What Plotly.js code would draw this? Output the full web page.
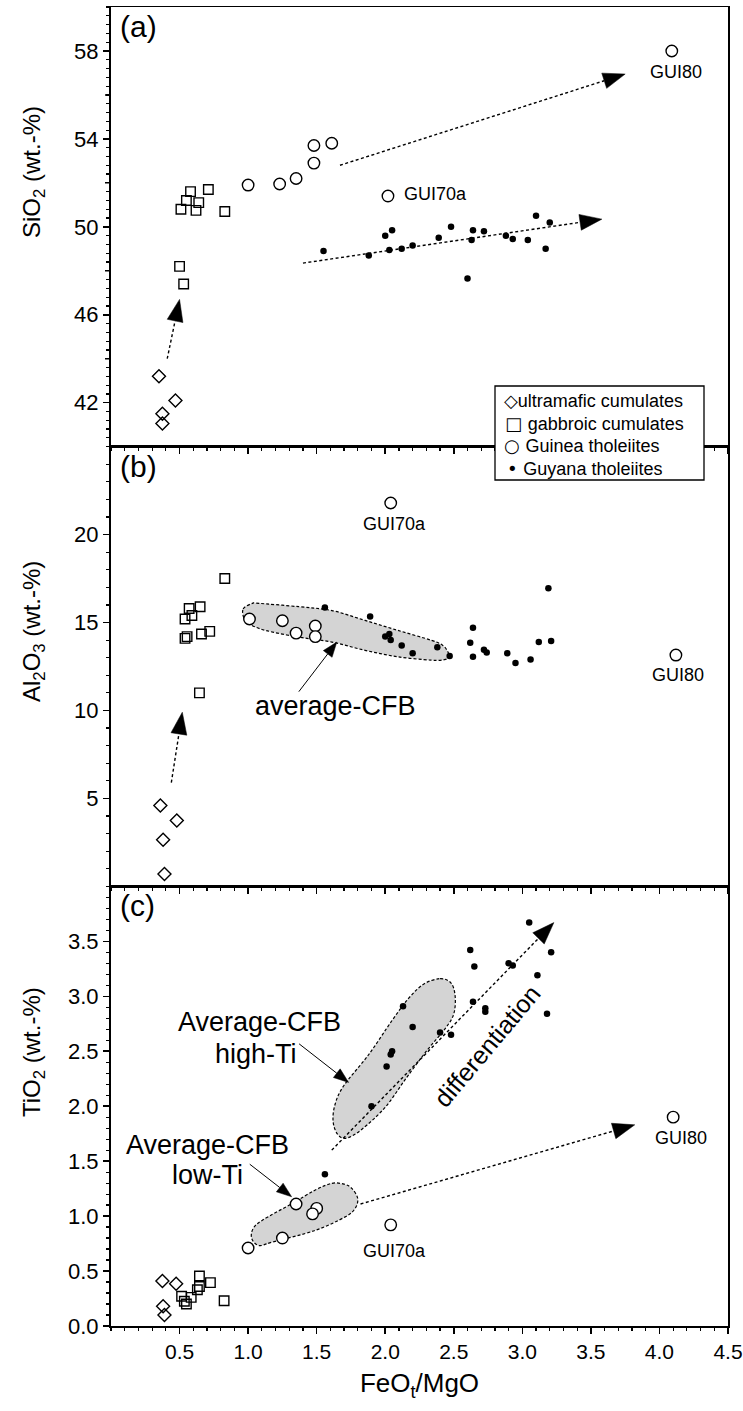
<!DOCTYPE html>
<html><head><meta charset="utf-8">
<script src="https://cdn.plot.ly/plotly-3.0.1.min.js"></script>
<style>html,body{margin:0;padding:0;background:#fff}</style>
</head><body><div id="chart" style="width:743px;height:1411px"></div>
<script>
// ---------------- DATA ----------------
const groupNames = ['ultramafic cumulates', 'gabbroic cumulates', 'Guinea tholeiites', 'Guyana tholeiites'];
const legendGlyphs = ['\u25C7', '\u25A1 ', '\u25CB ', '\u2022 '];
const yTitles = ['SiO<sub>2</sub> (wt.-%)', 'Al<sub>2</sub>O<sub>3</sub> (wt.-%)', 'TiO<sub>2</sub> (wt.-%)'];
const xTitle = 'FeO<sub>t</sub>/MgO';

// Panel (a): SiO2 vs FeOt/MgO
const ultraA_x = [0.35, 0.47, 0.375, 0.375];
const ultraA_y = [43.2, 42.1, 41.5, 41.05];
const gabbroA_x = [0.58, 0.71, 0.55, 0.64, 0.51, 0.62, 0.83, 0.50, 0.53];
const gabbroA_y = [51.6, 51.7, 51.2, 51.1, 50.8, 50.75, 50.7, 48.2, 47.4];
const guineaA_x = [1.00, 1.23, 1.35, 1.48, 1.61, 1.48, 2.02, 4.09];
const guineaA_y = [51.9, 51.95, 52.2, 53.7, 53.8, 52.9, 51.4, 58.0];
const guyanaA_x = [1.55, 1.88, 2.00, 2.05, 2.03, 2.12, 2.20, 2.39, 2.48, 2.60, 2.64, 2.63, 2.72, 2.88, 2.93, 3.04, 3.10, 3.17, 3.20];
const guyanaA_y = [48.9, 48.7, 49.6, 49.85, 48.95, 49.0, 49.15, 49.5, 50.0, 47.65, 49.85, 49.4, 49.8, 49.6, 49.45, 49.4, 50.5, 49.0, 50.2];

// Panel (b): Al2O3 vs FeOt/MgO
const ultraB_x = [0.36, 0.48, 0.38, 0.39];
const ultraB_y = [4.6, 3.75, 2.65, 0.7];
const gabbroB_x = [0.83, 0.57, 0.65, 0.54, 0.59, 0.54, 0.555, 0.66, 0.72, 0.645];
const gabbroB_y = [17.5, 15.8, 15.9, 15.2, 15.4, 14.1, 14.2, 14.35, 14.5, 11.0];
const guineaB_x = [1.01, 1.25, 1.35, 1.49, 1.49, 2.04, 4.12];
const guineaB_y = [15.2, 15.1, 14.4, 14.8, 14.2, 21.8, 13.15];
const guyanaB_x = [1.56, 1.89, 2.00, 2.03, 2.04, 2.12, 2.20, 2.38, 2.47, 2.64, 2.62, 2.64, 2.72, 2.74, 2.89, 2.95, 3.06, 3.12, 3.21, 3.19];
const guyanaB_y = [15.85, 15.35, 14.2, 14.35, 14.0, 13.7, 13.25, 13.6, 13.1, 14.7, 13.85, 13.05, 13.45, 13.3, 13.25, 12.7, 12.9, 13.9, 13.95, 16.95];

// Panel (c): TiO2 vs FeOt/MgO
const ultraC_x = [0.375, 0.475, 0.38, 0.39];
const ultraC_y = [0.41, 0.385, 0.18, 0.10];
const gabbroC_x = [0.645, 0.725, 0.63, 0.645, 0.585, 0.515, 0.55, 0.535, 0.825];
const gabbroC_y = [0.455, 0.395, 0.33, 0.36, 0.26, 0.27, 0.20, 0.225, 0.23];
const guineaC_x = [1.35, 1.50, 1.47, 1.25, 1.00, 2.04, 4.10];
const guineaC_y = [1.11, 1.07, 1.02, 0.80, 0.71, 0.92, 1.90];
const guyanaC_x = [3.05, 2.62, 2.65, 2.90, 2.93, 3.21, 3.11, 2.64, 2.73, 2.73, 3.18, 2.13, 2.20, 2.40, 2.48, 2.05, 2.04, 2.01, 1.90, 1.56];
const guyanaC_y = [3.67, 3.42, 3.27, 3.30, 3.28, 3.40, 3.19, 2.95, 2.89, 2.86, 2.84, 2.91, 2.72, 2.67, 2.65, 2.50, 2.47, 2.36, 2.00, 1.38];

// Tick labels
const xTickVals = [0.5, 1.0, 1.5, 2.0, 2.5, 3.0, 3.5, 4.0, 4.5];
const xTickText = ['0.5', '1.0', '1.5', '2.0', '2.5', '3.0', '3.5', '4.0', '4.5'];
const siTickVals = [42, 46, 50, 54, 58];
const siTickText = ['42', '46', '50', '54', '58'];
const siMidTicks = [44, 48, 52, 56];
const alTickVals = [5, 10, 15, 20];
const alTickText = ['5', '10', '15', '20'];
const tiTickVals = [0, 0.5, 1.0, 1.5, 2.0, 2.5, 3.0, 3.5];
const tiTickText = ['0.0', '0.5', '1.0', '1.5', '2.0', '2.5', '3.0', '3.5'];

// ---------------- LAYOUT CONSTANTS ----------------
const W = 743, H = 1411;
const M = {l: 111, r: 15, t: 7, b: 85};
const PW = W - M.l - M.r;
const PHT = H - M.t - M.b;
const PH = PHT / 3;
const XR = [0, 4.5];
const YR = {a: [40, 60], b: [0, 25], c: [0, 4]};
const FONT = 'Liberation Sans, Arial, sans-serif';
const GREY = 'rgb(212,212,212)';

const panels = {a: ['x', 'y'], b: ['x2', 'y2'], c: ['x3', 'y3']};

const styles = [
  {symbol: 'diamond-open', size: 10, color: 'black', line: {color: 'black', width: 1.4}},
  {symbol: 'square-open', size: 9.5, color: 'black', line: {color: 'black', width: 1.4}},
  {symbol: 'circle', size: 11.5, color: 'white', line: {color: 'black', width: 1.4}},
  {symbol: 'circle', size: 6.5, color: 'black', line: {color: 'black', width: 0}}
];

const sets = {
  a: [[ultraA_x, ultraA_y], [gabbroA_x, gabbroA_y], [guineaA_x, guineaA_y], [guyanaA_x, guyanaA_y]],
  b: [[ultraB_x, ultraB_y], [gabbroB_x, gabbroB_y], [guineaB_x, guineaB_y], [guyanaB_x, guyanaB_y]],
  c: [[ultraC_x, ultraC_y], [gabbroC_x, gabbroC_y], [guineaC_x, guineaC_y], [guyanaC_x, guyanaC_y]]
};

const traces = [];
['a', 'b', 'c'].forEach(p => {
  sets[p].forEach((d, i) => {
    traces.push({
      type: 'scatter', mode: 'markers',
      x: d[0], y: d[1],
      xaxis: panels[p][0], yaxis: panels[p][1],
      name: groupNames[i], legendgroup: 'g' + i,
      showlegend: false,
      marker: styles[i],
      hoverinfo: 'skip'
    });
  });
});

// ---------------- SHAPES ----------------
const sx = PW / (XR[1] - XR[0]);
const syOf = {a: PH / (YR.a[1] - YR.a[0]), b: PH / (YR.b[1] - YR.b[0]), c: PH / (YR.c[1] - YR.c[0])};

function smoothClosed(pts) {
  const n = pts.length;
  let d = 'M ' + pts[0][0] + ',' + pts[0][1];
  for (let i = 0; i < n; i++) {
    const p0 = pts[(i - 1 + n) % n], p1 = pts[i], p2 = pts[(i + 1) % n], p3 = pts[(i + 2) % n];
    const c1 = [p1[0] + (p2[0] - p0[0]) / 6, p1[1] + (p2[1] - p0[1]) / 6];
    const c2 = [p2[0] - (p3[0] - p1[0]) / 6, p2[1] - (p3[1] - p1[1]) / 6];
    d += ' C ' + c1[0] + ',' + c1[1] + ' ' + c2[0] + ',' + c2[1] + ' ' + p2[0] + ',' + p2[1];
  }
  return d + ' Z';
}

const blobs = [
  {p: 'b', pts: [[0.964,15.77],[1.031,16.09],[1.08,16.09],[1.37,15.90],[1.611,15.68],[1.853,15.12],[2.094,14.55],[2.336,13.99],[2.42,13.70],[2.457,13.33],[2.469,13.05],[2.432,12.89],[2.336,12.86],[2.094,13.05],[1.853,13.42],[1.611,13.89],[1.37,14.17],[1.128,14.55],[1.007,14.92],[0.971,15.21]]},
  {p: 'c', pts: [[2.40,3.16],[2.48,3.12],[2.51,3.0],[2.50,2.84],[2.44,2.71],[2.30,2.50],[2.15,2.25],[2.0,1.99],[1.83,1.79],[1.72,1.71],[1.655,1.74],[1.62,1.86],[1.635,2.02],[1.70,2.19],[1.88,2.47],[2.05,2.78],[2.17,2.98],[2.28,3.11]]},
  {p: 'c', pts: [[1.611,1.298],[1.70,1.29],[1.756,1.252],[1.799,1.161],[1.78,1.069],[1.708,0.993],[1.49,0.870],[1.176,0.763],[1.08,0.732],[1.027,0.794],[1.036,0.885],[1.104,0.962],[1.321,1.115],[1.49,1.237]]}
];

const shapes = [];
blobs.forEach(b => {
  shapes.push({type: 'path', xref: panels[b.p][0], yref: panels[b.p][1], layer: 'below',
    path: smoothClosed(b.pts), fillcolor: GREY, line: {color: 'black', width: 1.2, dash: '3px,2px'}});
});

function arrow(p, tail, tip, L, Wd, dashed) {
  const xr = panels[p][0], yr = panels[p][1], sy = syOf[p];
  const dxp = (tip[0] - tail[0]) * sx, dyp = (tip[1] - tail[1]) * sy;
  const len = Math.hypot(dxp, dyp), ux = dxp / len, uy = dyp / len;
  const bx = tip[0] - L * ux / sx, by = tip[1] - L * uy / sy;
  const c1 = [bx - Wd * uy / sx, by + Wd * ux / sy];
  const c2 = [bx + Wd * uy / sx, by - Wd * ux / sy];
  shapes.push({type: 'line', xref: xr, yref: yr, x0: tail[0], y0: tail[1], x1: bx, y1: by,
    line: {color: 'black', width: dashed ? 1.4 : 1, dash: dashed ? '3px,2.5px' : 'solid'}});
  shapes.push({type: 'path', xref: xr, yref: yr,
    path: 'M ' + tip[0] + ',' + tip[1] + ' L ' + c1[0] + ',' + c1[1] + ' L ' + c2[0] + ',' + c2[1] + ' Z',
    fillcolor: 'black', line: {color: 'black', width: 0.5}});
}

// trend arrows (dotted)
arrow('a', [0.41, 44.0], [0.50, 46.7], 22, 8, true);
arrow('a', [1.67, 52.8], [3.75, 56.95], 22, 8, true);
arrow('a', [1.40, 48.35], [3.58, 50.35], 22, 8, true);
arrow('b', [0.44, 5.9], [0.52, 9.9], 22, 8, true);
arrow('c', [1.61, 1.60], [3.23, 3.67], 22, 8, true);
arrow('c', [1.82, 1.11], [3.82, 1.83], 22, 8, true);
// label pointer arrows (solid)
arrow('b', [1.37, 11.07], [1.647, 13.89], 15, 5.5, false);
arrow('c', [1.372, 2.567], [1.733, 2.216], 15, 5.5, false);
arrow('c', [1.012, 1.472], [1.317, 1.176], 15, 5.5, false);

// intermediate (unlabelled) major ticks of the SiO2 axis
siMidTicks.forEach(v => {
  shapes.push({type: 'line', xref: 'x domain', yref: 'y', x0: -6 / PW, x1: 0, y0: v, y1: v,
    line: {color: 'black', width: 1.5}});
});

// legend box (pixel position -> paper)
const px2paperX = v => (v - M.l) / PW;
const px2paperY = v => 1 - (v - M.t) / PHT;
shapes.push({type: 'rect', xref: 'paper', yref: 'paper',
  x0: px2paperX(495), x1: px2paperX(704), y0: px2paperY(386), y1: px2paperY(480),
  fillcolor: 'white', line: {color: 'black', width: 1.3}, layer: 'above'});

// ---------------- ANNOTATIONS ----------------
const annotations = [];
function txt(p, x, y, text, size, opts) {
  annotations.push(Object.assign({xref: panels[p][0], yref: panels[p][1], x: x, y: y, text: text,
    showarrow: false, font: {family: FONT, size: size, color: 'black'}}, opts || {}));
}
// panel letters
[['a', '(a)'], ['b', '(b)'], ['c', '(c)']].forEach(([p, t]) => {
  annotations.push({xref: panels[p][0] + ' domain', yref: panels[p][1] + ' domain', x: 0.012, y: 0.998,
    xanchor: 'left', yanchor: 'top', text: t, showarrow: false, font: {family: FONT, size: 30, color: 'black'}});
});
// y-axis titles (placed as in the original figure, slightly above each panel's middle)
const yTitleCentersPx = [172, 632, 1052];
yTitles.forEach((t, i) => {
  annotations.push({xref: 'paper', yref: 'paper', x: px2paperX(33), y: px2paperY(yTitleCentersPx[i]),
    xanchor: 'center', yanchor: 'middle', textangle: -90, text: t, showarrow: false,
    font: {family: FONT, size: 24, color: 'black'}});
});
txt('a', 4.12, 57.05, 'GUI80', 18);
txt('a', 2.12, 51.48, 'GUI70a', 18, {xanchor: 'left'});
txt('b', 2.07, 20.62, 'GUI70a', 18);
txt('b', 4.135, 12.0, 'GUI80', 18);
txt('c', 2.07, 0.686, 'GUI70a', 18);
txt('c', 4.16, 1.71, 'GUI80', 18);
txt('b', 1.635, 10.23, 'average-CFB', 27);
txt('c', 1.08, 2.766, 'Average-CFB', 27);
txt('c', 1.06, 2.475, 'high-Ti', 27);
txt('c', 0.705, 1.65, 'Average-CFB', 27);
txt('c', 0.705, 1.375, 'low-Ti', 27);
txt('c', 2.74, 2.55, 'differentiation', 25, {textangle: -50});

// legend entries (glyph + label, as in the original figure)
const legendRowsPx = [400, 423, 446, 468];
const legendLeftPx = [502, 503, 502, 505];
groupNames.forEach((g, i) => {
  annotations.push({xref: 'paper', yref: 'paper', x: px2paperX(legendLeftPx[i]), y: px2paperY(legendRowsPx[i]),
    xanchor: 'left', yanchor: 'middle', showarrow: false,
    text: '<span style="font-family:DejaVu Sans">' + legendGlyphs[i] + '</span>' + g,
    font: {family: FONT, size: 18, color: 'black'}});
});

// ---------------- AXES ----------------
const tickFont = {family: FONT, size: 22, color: 'black'};
function xAxis(anchor, labels) {
  return {
    domain: [0, 1], range: XR, anchor: anchor, showgrid: false, zeroline: false,
    showline: true, linecolor: 'black', linewidth: 1.5, mirror: true,
    tickmode: 'array', tickvals: xTickVals, ticktext: xTickText,
    ticks: 'outside', ticklen: 6, tickwidth: 1.5, tickcolor: 'black',
    minor: {dtick: 0.1, tick0: 0, ticks: 'outside', ticklen: 3, tickwidth: 1.2, tickcolor: 'black', showgrid: false},
    showticklabels: labels, tickfont: {family: FONT, size: 21, color: 'black'}, automargin: false,
    ticklabeloverflow: 'allow'
  };
}
function yAxis(domain, anchor, range, tv, tt, minorD) {
  return {
    domain: domain, range: range, anchor: anchor, showgrid: false, zeroline: false,
    showline: true, linecolor: 'black', linewidth: 2, mirror: true,
    tickmode: 'array', tickvals: tv, ticktext: tt,
    ticks: 'outside', ticklen: 6, tickwidth: 1.5, tickcolor: 'black',
    minor: {dtick: minorD, tick0: range[0], ticks: 'outside', ticklen: 3, tickwidth: 1.2, tickcolor: 'black', showgrid: false},
    tickfont: tickFont, automargin: false
  };
}

const layout = {
  width: W, height: H, margin: M,
  paper_bgcolor: 'white', plot_bgcolor: 'white',
  font: {family: FONT, color: 'black'},
  showlegend: false,
  xaxis: xAxis('y', false),
  xaxis2: xAxis('y2', false),
  xaxis3: Object.assign(xAxis('y3', true), {title: {text: xTitle, font: {family: FONT, size: 26, color: 'black'}, standoff: 12}}),
  yaxis: yAxis([2/3, 1], 'x', YR.a, siTickVals, siTickText, 0.4),
  yaxis2: yAxis([1/3, 2/3], 'x2', YR.b, alTickVals, alTickText, 1),
  yaxis3: yAxis([0, 1/3], 'x3', YR.c, tiTickVals, tiTickText, 0.1),
  shapes: shapes,
  annotations: annotations
};

Plotly.newPlot('chart', traces, layout, {staticPlot: true, displayModeBar: false});
</script></body></html>
